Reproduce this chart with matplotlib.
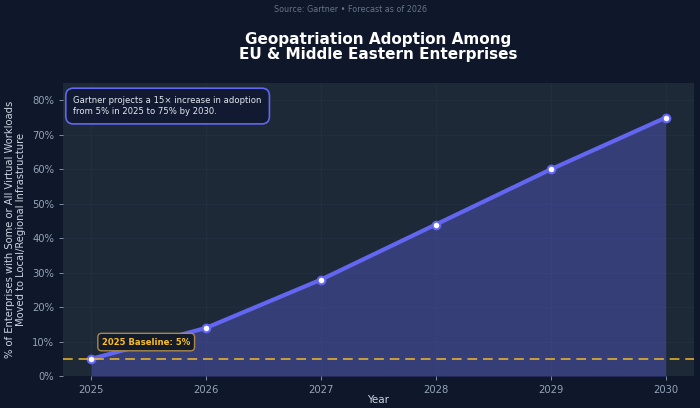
import matplotlib
matplotlib.use("Agg")
import matplotlib.pyplot as plt
from matplotlib.ticker import FuncFormatter

years = [2025, 2026, 2027, 2028, 2029, 2030]
adoption = [5, 14, 28, 44, 60, 75]
baseline = 5
y_ticks = [0, 10, 20, 30, 40, 50, 60, 70, 80]

BG = "#0f172a"
AX_BG = "#1e2937"
LINE = "#6366f1"
GOLD = "#fbbf24"
TICK = "#94a3b8"

fig = plt.figure(figsize=(7.0, 4.08), dpi=100, facecolor=BG)
ax = fig.add_axes([0.09, 0.078, 0.901, 0.718])
ax.set_facecolor(AX_BG)

ax.fill_between(years, adoption, 0, color=LINE, alpha=0.35, linewidth=0, zorder=2)
ax.plot(years, adoption, color=LINE, linewidth=3, zorder=3,
        marker="o", markersize=5.5, markerfacecolor="white",
        markeredgecolor=LINE, markeredgewidth=1.5)
ax.axhline(baseline, color=GOLD, linestyle="--", linewidth=1.4, alpha=0.75,
           dashes=(5, 3), zorder=4)

ax.set_xlim(2024.755, 2030.245)
ax.set_ylim(0, 85)
ax.set_xticks(years)
ax.set_yticks(y_ticks)
ax.yaxis.set_major_formatter(FuncFormatter(lambda v, _: f"{v:.0f}%"))
ax.tick_params(colors=TICK, labelsize=7.2, length=3, width=0.6)
ax.grid(True, color="#334155", linewidth=0.5, alpha=0.3)
ax.set_axisbelow(True)
for s in ax.spines.values():
    s.set_visible(False)

ax.set_xlabel("Year", color="#cbd5e1", fontsize=7.5, labelpad=0)
ax.set_ylabel("% of Enterprises with Some or All Virtual Workloads\n"
              "Moved to Local/Regional Infrastructure",
              color="#cbd5e1", fontsize=7.2, labelpad=4)

ax.text(0.0165, 0.957,
        "Gartner projects a 15\u00d7 increase in adoption\nfrom 5% in 2025 to 75% by 2030.",
        transform=ax.transAxes, ha="left", va="top", fontsize=6.1, color="#e2e8f0",
        linespacing=1.35,
        bbox=dict(boxstyle="round,pad=0.9,rounding_size=0.9", facecolor="#111a30",
                  edgecolor=LINE, linewidth=1.2), zorder=6)

ax.text(2025.095, 9.9, "2025 Baseline: 5%", ha="left", va="center",
        fontsize=6.1, fontweight="bold", color=GOLD,
        bbox=dict(boxstyle="round,pad=0.5,rounding_size=0.45", facecolor="#141c2b",
                  edgecolor="#a8894a", linewidth=1.0), zorder=6)

fig.text(0.5, 0.976, "Source: Gartner \u2022 Forecast as of 2026", ha="center",
         va="center", fontsize=5.8, color="#64748b")
fig.text(0.5405, 0.885, "Geopatriation Adoption Among\nEU & Middle Eastern Enterprises",
         ha="center", va="center", fontsize=11, fontweight="bold", color="white",
         linespacing=1.05)

fig.savefig("out.png", dpi=100, facecolor=BG)
